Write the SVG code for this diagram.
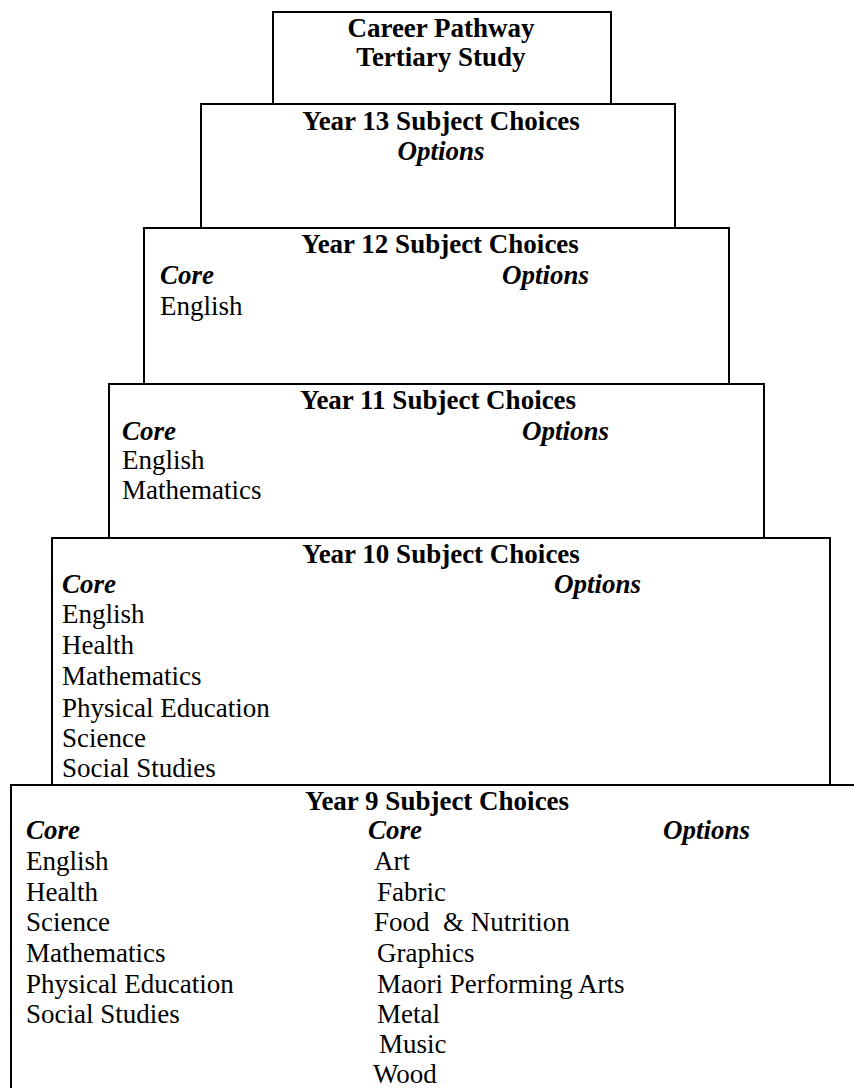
<svg xmlns="http://www.w3.org/2000/svg" width="854" height="1088" viewBox="0 0 854 1088">
<style>
.box{fill:#fff;stroke:#000;stroke-width:2}
text{font-size:27px;fill:#000}
.h{font-weight:bold;text-anchor:middle}
.i{font-weight:bold;font-style:italic}
.im{font-weight:bold;font-style:italic;text-anchor:middle}
.pre{white-space:pre}
</style>
<rect width="854" height="1088" fill="#fff"/>
<g font-family="Liberation Serif, Times New Roman, Times, serif">
<g id="career">
<rect class="box" x="273" y="12" width="338" height="92"/>
<text class="h" x="441" y="37">Career Pathway</text>
<text class="h" x="441" y="66">Tertiary Study</text>
</g>
<g id="year13">
<rect class="box" x="201" y="104" width="474" height="124"/>
<text class="h" x="441" y="130">Year 13 Subject Choices</text>
<text class="im" x="441" y="160">Options</text>
</g>
<g id="year12">
<rect class="box" x="144" y="228" width="585" height="156"/>
<text class="h" x="440" y="253">Year 12 Subject Choices</text>
<text class="i" x="160" y="284">Core</text>
<text class="i" x="502" y="284">Options</text>
<text x="160" y="315">English</text>
</g>
<g id="year11">
<rect class="box" x="109" y="384" width="655" height="154"/>
<text class="h" x="438" y="409">Year 11 Subject Choices</text>
<text class="i" x="122" y="440">Core</text>
<text class="i" x="522" y="440">Options</text>
<text x="122" y="469">English</text>
<text x="122" y="499">Mathematics</text>
</g>
<g id="year10">
<rect class="box" x="52" y="538" width="778" height="247"/>
<text class="h" x="441" y="563">Year 10 Subject Choices</text>
<text class="i" x="62" y="593">Core</text>
<text class="i" x="554" y="593">Options</text>
<text x="62" y="623">English</text>
<text x="62" y="654">Health</text>
<text x="62" y="685">Mathematics</text>
<text x="62" y="717">Physical Education</text>
<text x="62" y="747">Science</text>
<text x="62" y="777">Social Studies</text>
</g>
<g id="year9">
<rect class="box" x="11" y="785" width="900" height="400"/>
<text class="h" x="437" y="810">Year 9 Subject Choices</text>
<text class="i" x="26" y="839">Core</text>
<text class="i" x="368" y="839">Core</text>
<text class="i" x="663" y="839">Options</text>
<text x="26" y="870">English</text>
<text x="26" y="901">Health</text>
<text x="26" y="931">Science</text>
<text x="26" y="962">Mathematics</text>
<text x="26" y="993">Physical Education</text>
<text x="26" y="1023">Social Studies</text>
<text x="374" y="870">Art</text>
<text x="377" y="901">Fabric</text>
<text class="pre" x="374" y="931">Food  &amp; Nutrition</text>
<text x="377" y="962">Graphics</text>
<text x="377" y="993">Maori Performing Arts</text>
<text x="377" y="1023">Metal</text>
<text x="379" y="1053">Music</text>
<text x="373" y="1083">Wood</text>
</g>
</g>
<g id="connectors"/>
</svg>
